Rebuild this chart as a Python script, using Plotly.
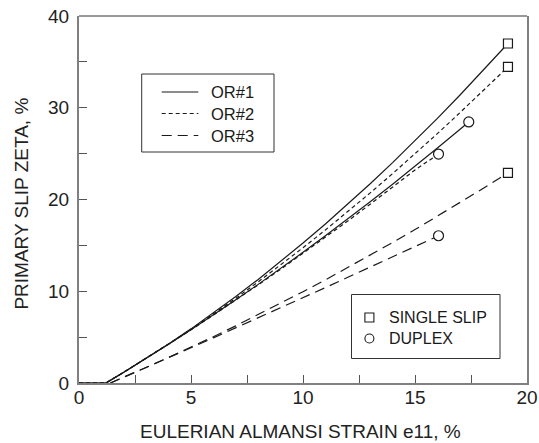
import plotly.graph_objects as go

# ---- data ----
X_SS1 = [0, 1.2, 2, 3, 4, 5, 6, 7, 8, 9, 10, 11, 12, 13, 14, 15, 16, 17, 18, 19.15]
Y_SS1 = [0, 0, 1.16, 2.67, 4.25, 5.90, 7.63, 9.42, 11.29, 13.24, 15.25, 17.33, 19.49, 21.72, 24.02, 26.40, 28.84, 31.36, 33.95, 37.0]
X_SS2 = [0, 1.2, 2, 3, 4, 5, 6, 7, 8, 9, 10, 11, 12, 13, 14, 15, 16, 17, 18, 19.15]
Y_SS2 = [0, 0, 1.17, 2.67, 4.24, 5.85, 7.52, 9.24, 11.02, 12.85, 14.74, 16.68, 18.67, 20.72, 22.82, 24.97, 27.18, 29.45, 31.76, 34.45]
X_SS3 = [1.4, 2, 3, 4, 5, 6, 7, 8, 9, 10, 11, 12, 13, 14, 15, 16, 17, 18, 19.15]
Y_SS3 = [0, 0.62, 1.69, 2.78, 3.90, 5.05, 6.23, 7.44, 8.68, 9.95, 11.24, 12.57, 13.92, 15.31, 16.72, 18.17, 19.64, 21.14, 22.90]

X_DU1 = [0, 1.2, 2, 3, 4, 5, 6, 7, 8, 9, 10, 11, 12, 13, 14, 15, 16, 17, 17.4]
Y_DU1 = [0, 0, 1.18, 2.68, 4.22, 5.80, 7.41, 9.06, 10.75, 12.48, 14.24, 16.05, 17.88, 19.76, 21.67, 23.62, 25.61, 27.63, 28.45]
X_DU2 = [0, 1.2, 2, 3, 4, 5, 6, 7, 8, 9, 10, 11, 12, 13, 14, 15, 16.05]
Y_DU2 = [0, 0, 1.18, 2.69, 4.23, 5.80, 7.40, 9.03, 10.70, 12.39, 14.12, 15.87, 17.66, 19.49, 21.34, 23.22, 24.95]
X_DU3 = [1.4, 2, 3, 4, 5, 6, 7, 8, 9, 10, 11, 12, 13, 14, 15, 16.05]
Y_DU3 = [0, 0.63, 1.70, 2.76, 3.84, 4.92, 6.00, 7.09, 8.19, 9.30, 10.40, 11.52, 12.64, 13.77, 14.90, 16.05]

SQ_X = [19.15, 19.15, 19.15]
SQ_Y = [37.0, 34.45, 22.9]
CI_X = [17.4, 16.05, 16.05]
CI_Y = [28.45, 24.95, 16.05]

X_TICKS = [0, 2.5, 5, 7.5, 10, 12.5, 15, 17.5, 20]
X_TICKTEXT = ["0", "", "5", "", "10", "", "15", "", "20"]
Y_TICKS = [0, 5, 10, 15, 20, 25, 30, 35, 40]
Y_TICKTEXT = ["0", "", "10", "", "20", "", "30", "", "40"]

LEGEND_LINES = ["OR#1", "OR#2", "OR#3"]
LEGEND_MARKERS = ["SINGLE SLIP", "DUPLEX"]
X_TITLE = "EULERIAN ALMANSI STRAIN e11, %"
Y_TITLE = "PRIMARY SLIP ZETA, %"

FONT = "Liberation Sans, Arial, sans-serif"
INK = "#1a1a1a"
TXT = "#222222"
AXIS = "#808080"

DASH1 = "solid"
DASH2 = "4px,3px"
DASH3 = "10px,6px"

fig = go.Figure()

def add_line(x, y, dash):
    fig.add_trace(go.Scatter(x=x, y=y, mode="lines",
                             line=dict(color=INK, width=1.2, dash=dash),
                             showlegend=False, hoverinfo="skip"))

add_line(X_SS1, Y_SS1, DASH1)
add_line(X_SS2, Y_SS2, DASH2)
add_line(X_SS3, Y_SS3, DASH3)
add_line(X_DU1, Y_DU1, DASH1)
add_line(X_DU2, Y_DU2, DASH2)
add_line(X_DU3, Y_DU3, DASH3)

fig.add_trace(go.Scatter(x=SQ_X, y=SQ_Y, mode="markers",
                         marker=dict(symbol="square", size=9, color="white",
                                     line=dict(color=INK, width=1.2)),
                         showlegend=False, hoverinfo="skip", cliponaxis=False))
fig.add_trace(go.Scatter(x=CI_X, y=CI_Y, mode="markers",
                         marker=dict(symbol="circle", size=10, color="white",
                                     line=dict(color=INK, width=1.2)),
                         showlegend=False, hoverinfo="skip", cliponaxis=False))

# plot area in page pixels: x 79..527, y 16..383 (body margin removed below)
PAGE_W, PAGE_H = 539, 443
L, R, T, B = 79, 527, 16, 383
W, H = R - L, B - T

def px_x(p):
    return (p - L) / W

def px_y(p):
    return (B - p) / H

shapes = []
annotations = []

# top frame line
shapes.append(dict(type="line", xref="paper", yref="paper", x0=0, x1=1, y0=1, y1=1,
                   line=dict(color="#333333", width=1)))

# legend box 1 (line styles)
shapes.append(dict(type="rect", xref="paper", yref="paper",
                   x0=px_x(141.7), x1=px_x(274), y0=px_y(152), y1=px_y(74),
                   line=dict(color="#333333", width=1), fillcolor="rgba(0,0,0,0)"))
rows1 = [92, 113.5, 135.5]
for name, dash, py in zip(LEGEND_LINES, [DASH1, DASH2, DASH3], rows1):
    shapes.append(dict(type="line", xref="paper", yref="paper",
                       x0=px_x(161.7), x1=px_x(198.3), y0=px_y(py), y1=px_y(py),
                       line=dict(color=INK, width=1.2, dash=dash)))
    annotations.append(dict(xref="paper", yref="paper", x=px_x(209), y=px_y(py),
                            text=name, showarrow=False, xanchor="left", yanchor="middle",
                            font=dict(family=FONT, size=16.5, color=INK)))

# legend box 2 (markers)
shapes.append(dict(type="rect", xref="paper", yref="paper",
                   x0=px_x(351.5), x1=px_x(500), y0=px_y(358.5), y1=px_y(294.5),
                   line=dict(color="#333333", width=1), fillcolor="rgba(0,0,0,0)"))
rows2 = [317.5, 338.5]
cx = 369.4
hs = 4.5
shapes.append(dict(type="rect", xref="paper", yref="paper",
                   x0=px_x(cx - hs), x1=px_x(cx + hs),
                   y0=px_y(rows2[0] + hs), y1=px_y(rows2[0] - hs),
                   line=dict(color=INK, width=1.1)))
shapes.append(dict(type="circle", xref="paper", yref="paper",
                   x0=px_x(cx - hs), x1=px_x(cx + hs),
                   y0=px_y(rows2[1] + hs), y1=px_y(rows2[1] - hs),
                   line=dict(color=INK, width=1.1)))
for name, py in zip(LEGEND_MARKERS, rows2):
    annotations.append(dict(xref="paper", yref="paper", x=px_x(386.5), y=px_y(py),
                            text=name, showarrow=False, xanchor="left", yanchor="middle",
                            font=dict(family=FONT, size=16, color=INK)))

# axis titles as annotations
annotations.append(dict(xref="paper", yref="paper", x=px_x(300.7), y=px_y(431),
                        text=X_TITLE, showarrow=False, xanchor="center", yanchor="middle",
                        font=dict(family=FONT, size=19, color=TXT)))
annotations.append(dict(xref="paper", yref="paper", x=px_x(20.6), y=px_y(204),
                        text=Y_TITLE, showarrow=False, xanchor="center", yanchor="middle",
                        textangle=-90, font=dict(family=FONT, size=19, color=TXT)))

fig.update_layout(
    width=PAGE_W, height=PAGE_H,
    margin=dict(l=L, r=PAGE_W - R, t=T, b=PAGE_H - B, pad=0, autoexpand=False),
    paper_bgcolor="white", plot_bgcolor="white",
    font=dict(family=FONT, size=19, color=TXT),
    shapes=shapes, annotations=annotations,
    showlegend=False,
)
fig.update_xaxes(range=[0, 20], tickvals=X_TICKS, ticktext=X_TICKTEXT,
                 ticks="inside", ticklen=8, tickwidth=1, tickcolor="#555555",
                 showline=True, linecolor=AXIS, linewidth=2, mirror=False,
                 showgrid=False, zeroline=False, automargin=False,
                 ticklabelstandoff=-4, ticklabeloverflow="allow",
                 tickfont=dict(family=FONT, size=19, color=TXT))
fig.update_yaxes(range=[0, 40], tickvals=Y_TICKS, ticktext=Y_TICKTEXT,
                 ticks="inside", ticklen=8, tickwidth=1, tickcolor="#555555",
                 showline=True, linecolor=AXIS, linewidth=2, mirror=True,
                 showgrid=False, zeroline=False, automargin=False,
                 ticklabelstandoff=4, ticklabeloverflow="allow",
                 tickfont=dict(family=FONT, size=19, color=TXT))

fig.write_html("out.html",
               config={"displayModeBar": False, "staticPlot": True},
               post_script="document.body.style.margin='0px';"
                           "document.body.style.overflow='hidden';")
